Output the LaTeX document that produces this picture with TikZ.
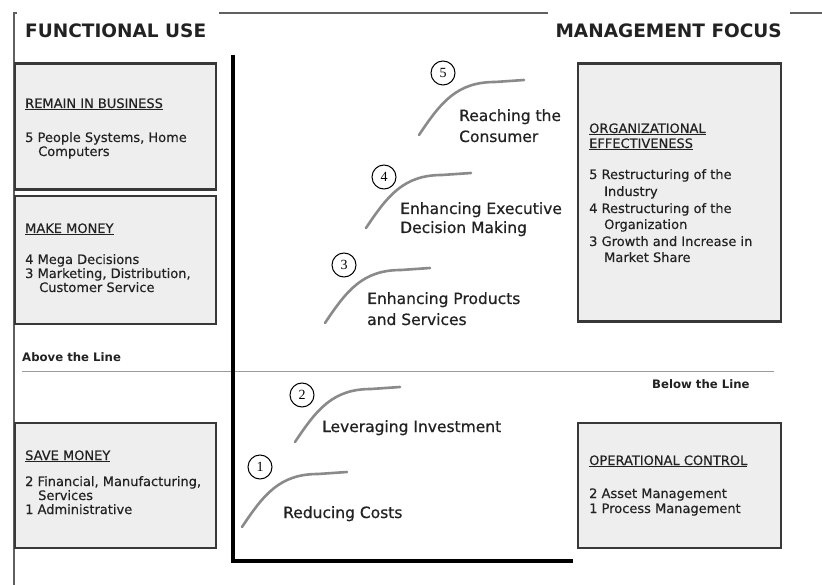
\documentclass[tikz,border=0pt]{standalone}
\usepackage{fontspec}
\setmainfont{DejaVu Sans}
\newfontfamily\labfont[FakeBold=0.6]{DejaVu Sans}
\newfontfamily\boxfont[FakeBold=0.3]{DejaVu Sans}
\newfontfamily\serifnum{Liberation Serif}
\usetikzlibrary{calc}
\definecolor{boxfill}{HTML}{EEEEEE}
\definecolor{boxline}{HTML}{383838}
\definecolor{txt}{HTML}{222222}
\definecolor{curvec}{HTML}{8A8A8A}
\definecolor{framec}{HTML}{606060}
\definecolor{thinc}{HTML}{9A9A9A}
\begin{document}
\begin{tikzpicture}[x=1pt,y=-1pt,
  box/.style={draw=boxline, fill=boxfill, line width=2.2pt, anchor=north west, inner sep=0pt, outer sep=0pt},
  tx/.style={anchor=base west, inner sep=0pt, text=txt, font=\boxfont\fontsize{13}{15}\selectfont},
  lab/.style={anchor=base west, inner sep=0pt, text=txt, font=\labfont\fontsize{15.5}{18}\selectfont},
  head/.style={anchor=base west, inner sep=0pt, text=txt, font=\bfseries\fontsize{18.5}{20}\selectfont},
  line/.style={anchor=base west, inner sep=0pt, text=txt, font=\bfseries\fontsize{11.7}{13}\selectfont},
  numc/.style={circle, draw=black, line width=1pt, minimum size=24pt, inner sep=0pt, font=\serifnum\fontsize{14}{14}\selectfont},
  curve/.style={draw=curvec, line width=2.6pt, line cap=round},
  frame/.style={draw=framec, line width=2pt},
  axisl/.style={draw=black, line width=3.6pt, line join=miter},
  thin/.style={draw=thinc, line width=1pt}]
\useasboundingbox (0,0) rectangle (822,585);
\fill[white] (0,0) rectangle (822,585);

% frame
\coordinate (f1) at (17,13); \coordinate (f2) at (14,13); \coordinate (f3) at (14,585);
\coordinate (f4) at (219,13); \coordinate (f5) at (548,13);
\coordinate (f6) at (790,13); \coordinate (f7) at (822,13);
\draw[frame] (f1) -- (f2) -- (f3);
\draw[frame] (f4) -- (f5);
\draw[frame] (f6) -- (f7);

% headings
\node[head] (hfu) at (25,38) {FUNCTIONAL USE};
\node[head, anchor=base east] (hmf) at (782,38) {MANAGEMENT FOCUS};

% boxes
\node[box, minimum width=201pt, minimum height=126pt] (brb) at (15,63.5) {};
\node[box, minimum width=201pt, minimum height=128pt] (bmm) at (15,196) {};
\node[box, minimum width=201pt, minimum height=125pt] (bsm) at (15,423) {};
\node[box, minimum width=203pt, minimum height=258pt] (boe) at (578,63.5) {};
\node[box, minimum width=203pt, minimum height=125pt] (boc) at (578,423) {};

% box texts
\node[tx] (t1) at (25,108) {\underline{REMAIN IN BUSINESS}};
\node[tx] (t2) at (25,142) {5 People Systems, Home};
\node[tx] (t3) at (38,156) {Computers};

\node[tx] (t4) at (25,233) {\underline{MAKE MONEY}};
\node[tx] (t5) at (25,264) {4 Mega Decisions};
\node[tx] (t6) at (25,278) {3 Marketing, Distribution,};
\node[tx] (t7) at (39,292) {Customer Service};

\node[tx] (t8) at (25,460) {\underline{SAVE MONEY}};
\node[tx] (t9) at (25,486) {2 Financial, Manufacturing,};
\node[tx] (t10) at (38,500) {Services};
\node[tx] (t11) at (25,514) {1 Administrative};

\node[tx] (t12) at (589,133) {\underline{ORGANIZATIONAL}};
\node[tx] (t13) at (589,148) {\underline{EFFECTIVENESS}};
\node[tx] (t14) at (589,179) {5 Restructuring of the};
\node[tx] (t15) at (604,196) {Industry};
\node[tx] (t16) at (589,213) {4 Restructuring of the};
\node[tx] (t17) at (604,229) {Organization};
\node[tx] (t18) at (589,246) {3 Growth and Increase in};
\node[tx] (t19) at (604,262) {Market Share};

\node[tx] (t20) at (589,465) {\underline{OPERATIONAL CONTROL}};
\node[tx] (t21) at (589,498) {2 Asset Management};
\node[tx] (t22) at (589,513) {1 Process Management};

% above / below the line
\coordinate (l1) at (22,371); \coordinate (l2) at (774,371);
\draw[thin] (l1) -- (l2);
\node[line] (abl) at (22,362) {Above the Line};
\node[line] (bel) at (652,388) {Below the Line};

% axes
\coordinate (ytop) at (233,55); \coordinate (orig) at (233,561); \coordinate (xend) at (573,561);
\draw[axisl] (ytop) -- (orig) -- (xend);

% curves
\foreach \i/\sx/\sy in {1/242/527, 2/295/442, 3/325/323, 4/366/228, 5/419/135}{
  \coordinate (c\i s) at (\sx,\sy);
  \coordinate (c\i m) at (\sx+76,\sy-53);
  \coordinate (c\i e) at (\sx+105,\sy-55);
  \draw[curve] (c\i s) .. controls +(22,-33) and +(-38,0) .. (c\i m) -- (c\i e);
}

% circled numbers
\node[numc] (n1) at (260,467) {1};
\node[numc] (n2) at (302,395) {2};
\node[numc] (n3) at (344,265) {3};
\node[numc] (n4) at (384,177) {4};
\node[numc] (n5) at (443,73) {5};

% curve labels
\node[lab] (r1) at (283,518) {Reducing Costs};
\node[lab] (r2) at (322,432) {Leveraging Investment};
\node[lab] (r3a) at (367,304) {Enhancing Products};
\node[lab] (r3b) at (367,325) {and Services};
\node[lab] (r4a) at (400,214) {Enhancing Executive};
\node[lab] (r4b) at (400,233) {Decision Making};
\node[lab] (r5a) at (459,121) {Reaching the};
\node[lab] (r5b) at (459,142) {Consumer};
\end{tikzpicture}
\end{document}
